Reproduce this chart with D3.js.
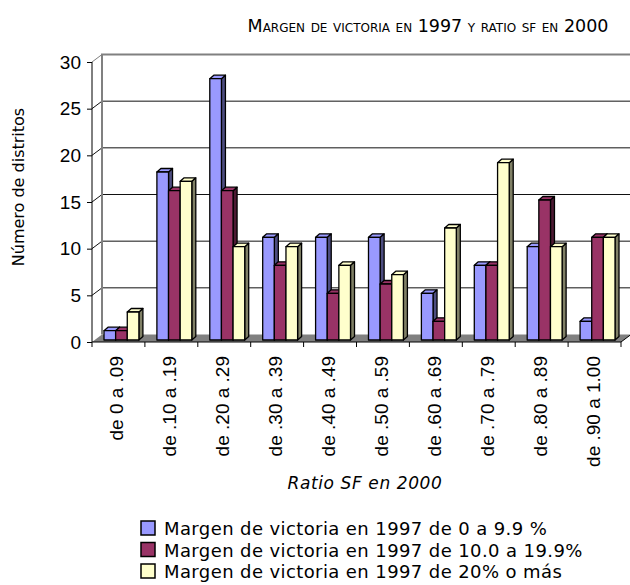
<!DOCTYPE html>
<html>
<head>
<meta charset="utf-8">
<script src="https://cdn.jsdelivr.net/npm/d3@7"></script>
<style>
  body { margin: 0; background: #fff; }
  text { font-family: "DejaVu Sans", sans-serif; fill: #000; }
</style>
</head>
<body>
<div id="chart"></div>
<script>
// Data
const categories = ["de 0 a .09", "de .10 a .19", "de .20 a .29", "de .30 a .39", "de .40 a .49",
  "de .50 a .59", "de .60 a .69", "de .70 a .79", "de .80 a .89", "de .90 a 1.00"];
const seriesNames = [
  "Margen de victoria en 1997 de 0 a 9.9 %",
  "Margen de victoria en 1997 de 10.0 a 19.9%",
  "Margen de victoria en 1997 de 20% o más"
];
const margin0to10 = [1, 18, 28, 11, 11, 11, 5, 8, 10, 2];
const margin10to20 = [1, 16, 16, 8, 5, 6, 2, 8, 15, 11];
const margin20plus = [3, 17, 10, 10, 8, 7, 12, 19, 10, 11];
const yTicks = [0, 5, 10, 15, 20, 25, 30];

const seriesValues = [margin0to10, margin10to20, margin20plus];
const frontColors = ["#9999ff", "#993366", "#ffffcc"];
const sideColors = ["#4d4d80", "#4d1a33", "#808066"];

const width = 630, height = 585;
const svg = d3.select("#chart")
  .append("svg")
  .attr("width", width)
  .attr("height", height);

// Scales (front plane of the 3D box)
const x = d3.scaleBand().domain(categories).range([92, 621]);
const y = d3.scaleLinear().domain([0, 30]).range([342, 62]);

// depth of the box (back wall offset) and of the bars
const depth = { dx: 10, dy: -7.5 };
const barPlane = { dx: 3, dy: -2 };
const barDepth = { dx: 4, dy: -3.5 };
const barW = x.bandwidth() * 0.22;

// Back wall gridlines
svg.append("g")
  .selectAll("line")
  .data(yTicks.filter(d => d > 0 && d < 30))
  .enter()
  .append("line")
  .attr("x1", x.range()[0] + depth.dx)
  .attr("x2", width)
  .attr("y1", d => y(d) + depth.dy)
  .attr("y2", d => y(d) + depth.dy)
  .attr("stroke", "#111")
  .attr("stroke-width", 1);

// Left wall diagonals
svg.append("g")
  .selectAll("line")
  .data(yTicks.filter(d => d > 0))
  .enter()
  .append("line")
  .attr("x1", x.range()[0])
  .attr("x2", x.range()[0] + depth.dx)
  .attr("y1", d => y(d))
  .attr("y2", d => y(d) + depth.dy)
  .attr("stroke", d => d === 30 ? "#808080" : "#111")
  .attr("stroke-width", 1);

// Back wall edges (gray)
svg.append("path")
  .attr("d", `M${x.range()[0] + depth.dx},${y(0) + depth.dy}V${y(30) + depth.dy}H${width}`)
  .attr("fill", "none")
  .attr("stroke", "#808080")
  .attr("stroke-width", 2);

// Floor
const x0 = x.range()[0], x1 = x.range()[1];
svg.append("path")
  .attr("d", `M${x0},${y(0)}L${x1},${y(0)}L${x1 + depth.dx},${y(0) + depth.dy}L${x0 + depth.dx},${y(0) + depth.dy}Z`)
  .attr("fill", "#808080")
  .attr("stroke", "none");
svg.append("line")
  .attr("x1", x1).attr("y1", y(0))
  .attr("x2", x1 + depth.dx).attr("y2", y(0) + depth.dy)
  .attr("stroke", "#000");

// Bars
const bars = [];
categories.forEach((c, i) => {
  seriesValues.forEach((vals, s) => {
    bars.push({ cat: c, s: s, v: vals[i] });
  });
});

const barG = svg.append("g")
  .selectAll("g")
  .data(bars)
  .enter()
  .append("g")
  .attr("stroke", "#000")
  .attr("stroke-width", 1.3)
  .attr("stroke-linejoin", "round");

const bx = d => x(d.cat) + (x.bandwidth() - 3 * barW) / 2 + d.s * barW + barPlane.dx;
const byTop = d => y(d.v) + barPlane.dy;
const byBot = d => y(0) + barPlane.dy;

// side face
barG.append("path")
  .attr("fill", d => sideColors[d.s])
  .attr("d", d => {
    const l = bx(d) + barW, t = byTop(d), b = byBot(d);
    return `M${l},${b}L${l},${t}L${l + barDepth.dx},${t + barDepth.dy}L${l + barDepth.dx},${b + barDepth.dy}Z`;
  });
// top face
barG.append("path")
  .attr("fill", d => frontColors[d.s])
  .attr("d", d => {
    const l = bx(d), t = byTop(d);
    return `M${l},${t}L${l + barW},${t}L${l + barW + barDepth.dx},${t + barDepth.dy}L${l + barDepth.dx},${t + barDepth.dy}Z`;
  });
// front face
barG.append("rect")
  .attr("fill", d => frontColors[d.s])
  .attr("x", d => bx(d))
  .attr("y", d => byTop(d))
  .attr("width", barW)
  .attr("height", d => byBot(d) - byTop(d));

// Left axis
const yAxis = svg.append("g")
  .attr("transform", `translate(${x0},0)`)
  .call(d3.axisLeft(y).tickValues(yTicks).tickSize(5).tickPadding(6).tickFormat(d3.format("d")));
yAxis.select(".domain").attr("stroke", "#000").attr("d", `M0,${y(0)}V${y(30)}`);
yAxis.selectAll(".tick line").attr("stroke", "#000");
yAxis.selectAll("text")
  .style("font-family", "'Liberation Sans', Arial, sans-serif")
  .style("font-size", "19px");

// Bottom axis
const bottom = svg.append("g");
bottom.append("line")
  .attr("x1", x0).attr("x2", x1)
  .attr("y1", y(0)).attr("y2", y(0))
  .attr("stroke", "#000");
bottom.selectAll(".tk")
  .data(d3.range(categories.length + 1))
  .enter()
  .append("line")
  .attr("x1", i => x0 + i * x.step())
  .attr("x2", i => x0 + i * x.step())
  .attr("y1", y(0))
  .attr("y2", y(0) + 5)
  .attr("stroke", "#000");
bottom.selectAll(".cl")
  .data(categories)
  .enter()
  .append("text")
  .attr("transform", d => `translate(${x(d) + x.bandwidth() / 2 + 5},${y(0) + 14}) rotate(-90)`)
  .attr("text-anchor", "end")
  .style("font-family", "'Liberation Sans', Arial, sans-serif")
  .style("font-size", "19px")
  .text(d => d);

// Titles
svg.append("text")
  .attr("x", 428)
  .attr("y", 32)
  .attr("text-anchor", "middle")
  .style("font-size", "17.5px")
  .style("font-variant", "small-caps")
  .text("Margen de victoria en 1997 y ratio sf en 2000");

svg.append("text")
  .attr("transform", "translate(24,187) rotate(-90)")
  .attr("text-anchor", "middle")
  .style("font-size", "16px")
  .text("Número de distritos");

svg.append("text")
  .attr("x", 365)
  .attr("y", 489)
  .attr("text-anchor", "middle")
  .style("font-size", "17px")
  .style("font-style", "italic")
  .style("letter-spacing", "0.6px")
  .text("Ratio SF en 2000");

// Legend
const legend = svg.append("g")
  .selectAll("g")
  .data(seriesNames)
  .enter()
  .append("g")
  .attr("transform", (d, i) => `translate(141,${521 + i * 21.5})`);
legend.append("rect")
  .attr("width", 14)
  .attr("height", 14)
  .attr("fill", (d, i) => frontColors[i])
  .attr("stroke", "#000")
  .attr("stroke-width", 1.5);
legend.append("text")
  .attr("x", 23)
  .attr("y", 14)
  .style("font-size", "18px")
  .style("letter-spacing", "0.4px")
  .text(d => d);
</script>
</body>
</html>
